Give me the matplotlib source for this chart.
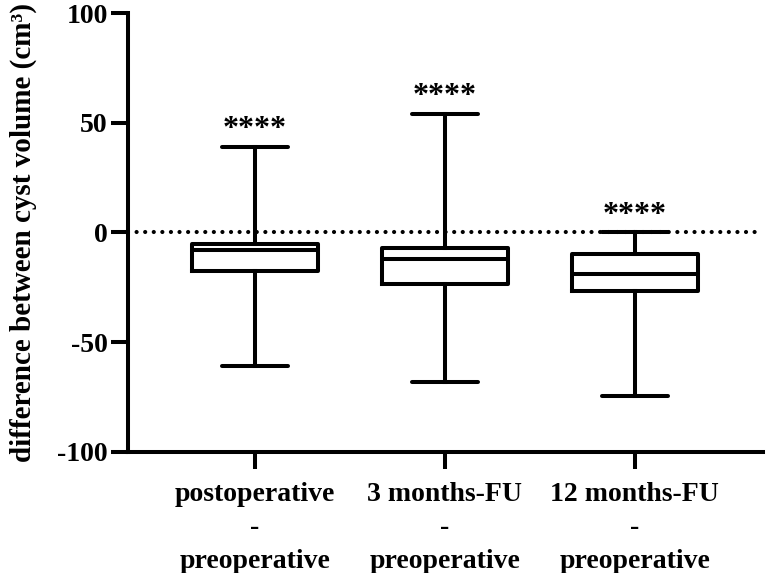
import numpy as np
import matplotlib
matplotlib.use("Agg")
import matplotlib.pyplot as plt

plt.rcParams['font.family'] = ['Liberation Serif', 'DejaVu Serif']
plt.rcParams['font.weight'] = 'bold'

# datos
categorias = ["postoperative\n-\npreoperative",
              "3 months-FU\n-\npreoperative",
              "12 months-FU\n-\npreoperative"]
bigote_sup = [39.0, 54.2, 0.0]
q3 = [-5.2, -6.9, -9.7]
mediana = [-8.2, -12.2, -19.0]
q1 = [-17.5, -23.3, -26.8]
bigote_inf = [-60.8, -67.9, -74.7]
significancia = ["****", "****", "****"]

stats = []
for i in range(len(categorias)):
    stats.append({
        'whislo': bigote_inf[i], 'q1': q1[i], 'med': mediana[i],
        'q3': q3[i], 'whishi': bigote_sup[i], 'fliers': []})

fig = plt.figure(figsize=(7.66, 5.73), dpi=100)
ax = fig.add_axes([0.1671, 0.2112, 0.8289, 0.7661])

lw = 2.9
pos = np.arange(1, len(categorias) + 1)
ax.axhline(0, color='black', lw=3.0, linestyle=(0, (0.01, 2.05)),
           dash_capstyle='round', zorder=1)
ax.bxp(stats, positions=pos, widths=0.66, capwidths=0.35,
       showfliers=False, patch_artist=False,
       boxprops=dict(color='black', linewidth=lw),
       medianprops=dict(color='black', linewidth=lw),
       whiskerprops=dict(color='black', linewidth=lw),
       capprops=dict(color='black', linewidth=lw, solid_capstyle='round'),
       zorder=3)

# asteriscos sobre cada caja
for p, top, s in zip(pos, bigote_sup, significancia):
    ax.annotate(s, xy=(p, top), xytext=(0, 2), textcoords='offset points',
                ha='center', va='bottom', fontsize=23, fontweight='bold')

ax.set_xlim(0.332, 3.674)
ax.set_ylim(-100, 100)
ax.set_yticks([-100, -50, 0, 50, 100])
ax.set_yticklabels(['-100', '-50', '0', '50', '100'])
ax.set_xticks(pos)
ax.set_xticklabels(categorias, linespacing=1.45)
ax.tick_params(axis='both', width=lw, length=12.5, labelsize=20, color='black')
ax.tick_params(axis='y', pad=2)
ax.tick_params(axis='x', pad=9)
for lab in ax.get_xticklabels() + ax.get_yticklabels():
    lab.set_fontweight('bold')

ax.spines['top'].set_visible(False)
ax.spines['right'].set_visible(False)
ax.spines['left'].set_linewidth(lw)
ax.spines['bottom'].set_linewidth(lw)

ax.set_ylabel("difference between cyst volume (cm³)", fontsize=21,
              fontweight='bold')
ax.yaxis.set_label_coords(-0.143, 0.5)

fig.savefig("out.png", dpi=100)
